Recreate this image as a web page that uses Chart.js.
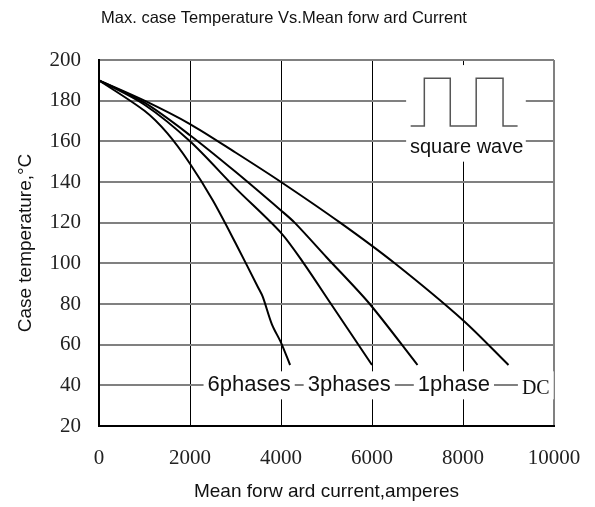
<!DOCTYPE html>
<html>
<head>
<meta charset="utf-8">
<script src="https://cdn.jsdelivr.net/npm/chart.js@4.4.1/dist/chart.umd.min.js"></script>
<style>
  html, body { margin: 0; padding: 0; background: #fff; }
  #wrap { width: 595px; height: 507px; position: relative; }
</style>
</head>
<body>
<div id="wrap"><canvas id="c"></canvas></div>
<script>
// Max. case temperature vs. mean forward current — 4 curves

const xTicks = [0, 2000, 4000, 6000, 8000, 10000];
const yTicks = [20, 40, 60, 80, 100, 120, 140, 160, 180, 200];

const dcX = [0, 1000, 2000, 3000, 4000, 5300, 6500, 8000, 9000];
const dcY = [190, 180, 168.5, 154.5, 140, 120, 100, 72, 50];

const onePhaseX = [0, 1000, 2000, 3000, 4000, 4300, 5000, 5950, 7000];
const onePhaseY = [190, 179, 163, 145, 126, 120, 103, 80, 50];

const threePhaseX = [0, 1000, 2000, 3000, 4000, 4500, 5100, 6000];
const threePhaseY = [190, 178, 160, 137, 115, 100, 80, 50];

const sixPhaseX = [0, 1000, 1500, 2000, 2500, 3000, 3500, 3600, 3800, 4000, 4200];
const sixPhaseY = [190, 175, 164, 149, 131, 110, 88, 83.5, 70, 61, 50];

// curve labels along the 40 °C grid line (x = label centre, amperes)
const labelNames = ["6phases", "3phases", "1phase", "DC"];
const labelX = [3300, 5500, 7800, 9600];
const labelY = 40;

// square-wave inset (amperes / °C)
const waveX = [6850, 7150, 7150, 7720, 7720, 8290, 8290, 8880, 8880, 9200];
const waveY = [167.5, 167.5, 191, 191, 167.5, 167.5, 191, 191, 167.5, 167.5];

const GRAY = "#808080";
const SANS = "'Liberation Sans', Arial, sans-serif";
const SERIF = "'Liberation Serif', 'Times New Roman', serif";

const pts = (xs, ys) => xs.map((x, i) => ({ x: x, y: ys[i] }));

function curve(xs, ys) {
  return {
    data: pts(xs, ys),
    borderColor: "#000",
    borderWidth: 2,
    pointRadius: 0,
    tension: 0.3,
    fill: false
  };
}

// white boxes behind inset + labels, then text
const decor = {
  id: "decor",
  beforeDatasetsDraw(chart) {
    const ctx = chart.ctx;
    const xs = chart.scales.x, ys = chart.scales.y;
    ctx.save();
    ctx.fillStyle = "#fff";
    // inset box
    const l = xs.getPixelForValue(6750), r = xs.getPixelForValue(9380);
    const t = ys.getPixelForValue(197.5), b = ys.getPixelForValue(150);
    ctx.fillRect(l, t, r - l, b - t);
    // label boxes
    const yp = ys.getPixelForValue(labelY);
    labelNames.forEach((name, i) => {
      ctx.font = name === "DC" ? "20px " + SERIF : "22px " + SANS;
      const w = ctx.measureText(name).width;
      const cx = xs.getPixelForValue(labelX[i]);
      ctx.fillRect(cx - w / 2 - 4, yp - 14, w + 8, 28);
    });
    ctx.restore();
  },
  afterDatasetsDraw(chart) {
    const ctx = chart.ctx;
    const xs = chart.scales.x, ys = chart.scales.y;
    ctx.save();
    ctx.fillStyle = "#111";
    ctx.textAlign = "center";
    ctx.textBaseline = "middle";
    const yp = ys.getPixelForValue(labelY);
    labelNames.forEach((name, i) => {
      ctx.font = name === "DC" ? "20px " + SERIF : "22px " + SANS;
      ctx.fillText(name, xs.getPixelForValue(labelX[i]), yp + (name === "DC" ? 3 : 0));
    });
    ctx.font = "20px " + SANS;
    ctx.fillText("square wave", xs.getPixelForValue(8080), ys.getPixelForValue(157));
    ctx.font = "16.5px " + SANS;
    ctx.fillText("Max. case Temperature Vs.Mean forw ard Current", 284, 18);
    ctx.restore();
  }
};

new Chart(document.getElementById("c"), {
  type: "line",
  data: {
    datasets: [
      curve(dcX, dcY),
      curve(onePhaseX, onePhaseY),
      curve(threePhaseX, threePhaseY),
      curve(sixPhaseX, sixPhaseY),
      {
        data: pts(waveX, waveY),
        borderColor: "#555",
        borderWidth: 1.5,
        pointRadius: 0,
        tension: 0,
        fill: false
      }
    ]
  },
  options: {
    responsive: true,
    maintainAspectRatio: false,
    animation: false,
    layout: { padding: { top: 60, right: 41, left: 0, bottom: 0 } },
    plugins: { legend: { display: false }, tooltip: { enabled: false }, title: { display: false } },
    scales: {
      x: {
        type: "linear",
        min: 0,
        max: 10000,
        afterBuildTicks: (s) => { s.ticks = xTicks.map(v => ({ value: v })); },
        afterFit: (s) => { s.height = 81; s.paddingLeft = 0; s.paddingRight = 0; },
        ticks: {
          autoSkip: false,
          maxRotation: 0,
          padding: 20,
          color: "#222",
          font: { family: SERIF, size: 21 },
          callback: (v) => String(v)
        },
        grid: {
          drawTicks: false,
          color: (c) => c.tick.value === 0 ? "rgba(0,0,0,0)" : (c.tick.value === 10000 ? GRAY : "#000"),
          lineWidth: (c) => c.tick.value === 10000 ? 2 : 1
        },
        border: { color: "#000", width: 2 },
        title: {
          display: true,
          text: "Mean forw ard current,amperes",
          color: "#111",
          font: { family: SANS, size: 19 },
          padding: { top: 0, bottom: 4 }
        }
      },
      y: {
        min: 20,
        max: 200,
        afterBuildTicks: (s) => { s.ticks = yTicks.map(v => ({ value: v })); },
        afterFit: (s) => { s.width = 99; s.paddingTop = 0; s.paddingBottom = 0; },
        ticks: {
          padding: 18,
          color: "#222",
          font: { family: SERIF, size: 21 }
        },
        grid: {
          drawTicks: false,
          color: (c) => c.tick.value === 20 ? "rgba(0,0,0,0)" : GRAY,
          lineWidth: 2
        },
        border: { color: "#000", width: 2 },
        title: {
          display: true,
          text: "Case temperature,°C",
          color: "#111",
          font: { family: SANS, size: 19 },
          padding: { top: 14, bottom: 0 }
        }
      }
    }
  },
  plugins: [decor]
});
</script>
</body>
</html>
